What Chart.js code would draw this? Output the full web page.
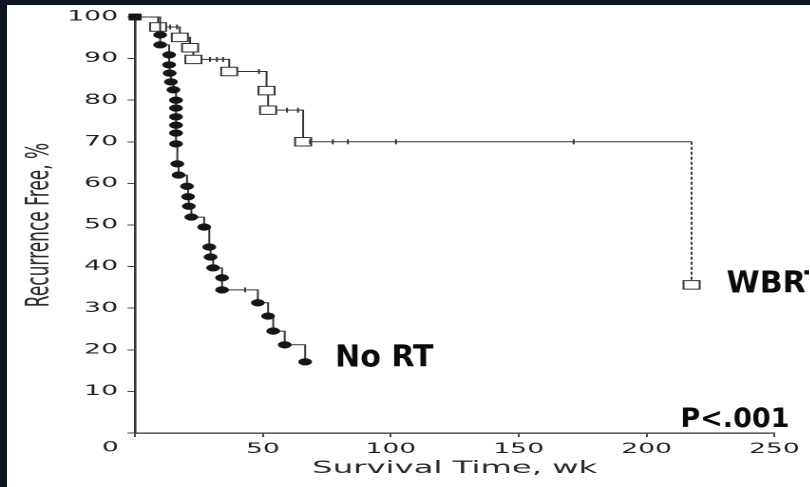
<!DOCTYPE html>
<html>
<head>
<meta charset="utf-8">
<script src="https://cdn.jsdelivr.net/npm/chart.js@4.4.0/dist/chart.umd.min.js"></script>
<style>
  html, body { margin: 0; padding: 0; background: #0f1622; overflow: hidden; }
  #paper { position: absolute; left: 7px; top: 5px; width: 803px; height: 482px; background: #fff; }
  #canva { position: absolute; left: 0; top: 0; transform-origin: 0 0; transform: scaleX(1.9); }
</style>
</head>
<body>
<div id="paper"></div>
<canvas id="canva" width="426" height="487"></canvas>
<script>
// the scanned figure is stretched sideways, so the chart is drawn narrow and widened by css
var STRETCH = 1.9;

// No RT curve (filled markers)
var noRtWeeks = [0, 9.8, 9.8, 13.3, 13.3, 13.5, 14, 15, 16, 16, 16, 16, 16, 16, 16.5, 17, 20.3, 20.7, 21, 22, 27, 29, 29.5, 30.5, 34, 34, 48, 52, 54, 58.5, 66.5];
var noRtFree = [100, 95.7, 93.3, 90.9, 88.5, 86.5, 84.4, 82.5, 80, 78.1, 76, 74, 72.1, 69.5, 64.7, 62, 59.3, 56.8, 54.5, 51.9, 49.5, 44.7, 42.3, 39.7, 37.3, 34.4, 31.3, 28.1, 24.5, 21.2, 17.1];
var noRtCensorWeeks = [43];
var noRtCensorFree = [34.4];

// WBRT curve (open markers)
var wbrtWeeks = [0, 9, 17.5, 21.5, 22.8, 36.8, 51.4, 52, 65.7, 217.6, 217.6];
var wbrtFree = [100, 97.6, 95.1, 92.6, 89.8, 86.9, 82.3, 77.6, 70, 70, 35.6];
var wbrtCensorWeeks = [13.7, 16.4, 29.3, 32, 34.4, 48.4, 59.4, 63.7, 68.4, 77.3, 83.2, 102, 171.5];
var wbrtCensorFree = [97.6, 97.6, 89.8, 89.8, 89.8, 86.9, 77.6, 77.6, 70, 70, 70, 70, 70];

var xTicks = [0, 50, 100, 150, 200, 250];
var yTicks = [0, 10, 20, 30, 40, 50, 60, 70, 80, 90, 100];

function pts(xs, ys) {
  return xs.map(function (x, i) { return { x: x, y: ys[i] }; });
}

// text that should not look stretched
function flatText(c, txt, x, y, align, base, size) {
  c.save();
  c.translate(x, y);
  c.scale(1 / STRETCH, 1);
  c.font = 'bold ' + size + 'px "DejaVu Sans"';
  c.fillStyle = '#0a0a0a';
  c.textAlign = align;
  c.textBaseline = base;
  c.fillText(txt, 0, 0);
  c.restore();
}

var annotate = {
  id: 'annotate',
  afterDraw: function (chart) {
    var c = chart.ctx, xs = chart.scales.x, ys = chart.scales.y;
    c.save();
    c.fillStyle = '#1f1f1f';
    c.font = '14px "DejaVu Sans"';
    c.textAlign = 'center';
    c.textBaseline = 'middle';
    c.fillText('0', xs.getPixelForValue(0) - 13, ys.bottom + 15);
    c.restore();

    var n = noRtWeeks.length - 1, w = wbrtWeeks.length - 1;
    flatText(c, 'No RT', xs.getPixelForValue(noRtWeeks[n]) + 30 / STRETCH, ys.getPixelForValue(noRtFree[n]) - 3, 'left', 'middle', 30);
    flatText(c, 'WBRT', xs.getPixelForValue(wbrtWeeks[w]) + 35 / STRETCH, ys.getPixelForValue(wbrtFree[w]), 'left', 'middle', 30);
    flatText(c, 'P<.001', xs.getPixelForValue(250) + 15 / STRETCH, ys.bottom - 6, 'right', 'alphabetic', 27);
  }
};

var tickFont = { family: '"DejaVu Sans"', size: 14 };
var titleFont = { family: '"DejaVu Sans"', size: 17 };

new Chart(document.getElementById('canva'), {
  type: 'scatter',
  data: {
    datasets: [
      {
        label: 'No RT censored',
        data: pts(noRtCensorWeeks, noRtCensorFree),
        pointStyle: 'line',
        rotation: 90,
        pointRadius: 2.5,
        pointBorderColor: '#333',
        pointBorderWidth: 1,
        clip: false,
      },
      {
        label: 'WBRT censored',
        data: pts(wbrtCensorWeeks, wbrtCensorFree),
        pointStyle: 'line',
        rotation: 90,
        pointRadius: 2.5,
        pointBorderColor: '#333',
        pointBorderWidth: 1,
        clip: false,
      },
      {
        label: 'No RT',
        data: pts(noRtWeeks, noRtFree),
        showLine: true,
        stepped: 'before',
        borderColor: '#333',
        borderWidth: 1,
        pointStyle: function (c) { return c.dataIndex === 0 ? 'rect' : 'circle'; },
        pointRadius: function (c) { return c.dataIndex === 0 ? 4.5 : 3.4; },
        pointBackgroundColor: '#161616',
        pointBorderColor: '#161616',
        pointBorderWidth: 0.5,
        clip: false,
      },
      {
        label: 'WBRT',
        data: pts(wbrtWeeks, wbrtFree),
        showLine: true,
        stepped: 'before',
        borderColor: '#333',
        borderWidth: 1,
        pointStyle: 'rect',
        pointRadius: function (c) {
          var i = c.dataIndex;
          if (i === 0 || wbrtFree[i] === wbrtFree[i - 1]) return 0;
          return 6;
        },
        pointBackgroundColor: '#fff',
        pointBorderColor: '#333',
        pointBorderWidth: 1,
        segment: {
          borderDash: function (c) { return c.p1DataIndex === wbrtWeeks.length - 1 ? [3, 2] : undefined; }
        },
        clip: false,
      },
    ],
  },
  options: {
    responsive: false,
    animation: false,
    devicePixelRatio: 2,
    layout: { padding: { top: 17, right: 18.4, bottom: 0, left: 0 } },
    plugins: { legend: { display: false }, tooltip: { enabled: false } },
    scales: {
      x: {
        type: 'linear',
        min: 0,
        max: 250,
        afterBuildTicks: function (s) { s.ticks = xTicks.map(function (v) { return { value: v }; }); },
        afterFit: function (s) { s.height = 54; },
        ticks: {
          font: tickFont,
          color: '#1f1f1f',
          padding: 4,
          maxRotation: 0,
          callback: function (v) { return v === 0 ? '' : v; },
        },
        grid: { display: true, drawOnChartArea: false, tickLength: 4, color: '#444' },
        border: { display: true, color: '#333', width: 1.3 },
        title: { display: true, text: 'Survival Time, wk', font: titleFont, color: '#2a2a2a', padding: { top: 0, bottom: 8 } },
      },
      y: {
        min: 0,
        max: 100,
        afterBuildTicks: function (s) { s.ticks = yTicks.map(function (v) { return { value: v }; }); },
        afterFit: function (s) { s.width = 71.1; },
        ticks: {
          font: tickFont,
          color: '#1f1f1f',
          padding: 5,
          callback: function (v) { return v === 0 ? '' : v; },
        },
        grid: { display: true, drawOnChartArea: false, tickLength: 4, color: '#444' },
        border: { display: true, color: '#333', width: 1.3 },
        title: { display: true, text: 'Recurrence Free, %', font: titleFont, color: '#2a2a2a', padding: { top: 11, bottom: 0 } },
      },
    },
  },
  plugins: [annotate],
});
</script>
</body>
</html>
